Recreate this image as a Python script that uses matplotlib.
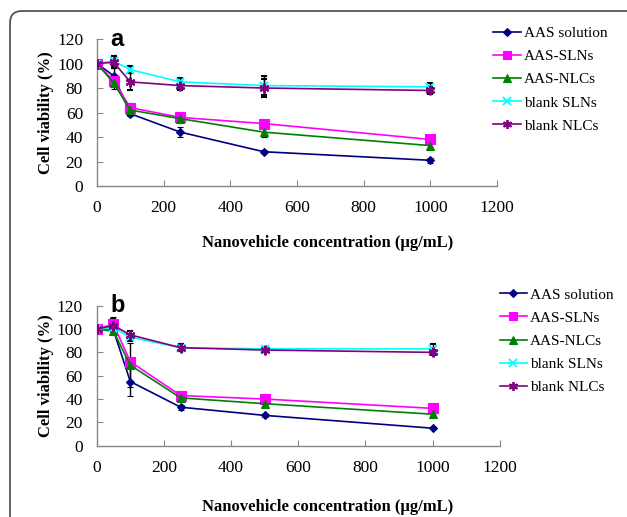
import matplotlib
matplotlib.use("Agg")
import matplotlib.pyplot as plt
from matplotlib.patches import FancyBboxPatch
from matplotlib.lines import Line2D

conc = [0, 50, 100, 250, 500, 1000]
series_names = ["AAS solution", "AAS-SLNs", "AAS-NLCs", "blank SLNs", "blank NLCs"]

# Panel a
a_aas_sol = [100, 90, 59, 44, 28, 21]
a_aas_sln = [100, 86, 64, 56, 51, 38]
a_aas_nlc = [100, 84, 62, 55, 44, 33]
a_blank_sln = [100, 102, 95, 85, 82, 81]
a_blank_nlc = [100, 101, 85, 82, 80, 78]
a_err_sol = [0, 6, 2, 4, 1, 2]
a_err_sln = [0, 3, 4, 2, 2, 2]
a_err_nlc = [0, 5, 2, 2, 4, 2]
a_err_bsln = [0, 4, 3, 3, 8, 3]
a_err_bnlc = [0, 5, 7, 4, 7, 3]

# Panel b
b_aas_sol = [100, 99, 55, 33, 26, 15]
b_aas_sln = [100, 104, 72, 43, 40, 32]
b_aas_nlc = [100, 98, 69, 41, 36, 27]
b_blank_sln = [100, 101, 93, 84, 83, 83]
b_blank_nlc = [100, 103, 95, 84, 82, 80]
b_err_sol = [0, 2, 12, 2, 1, 1]
b_err_sln = [0, 6, 3, 2, 2, 2]
b_err_nlc = [0, 2, 19, 2, 2, 2]
b_err_bsln = [0, 4, 3, 3, 2, 4]
b_err_bnlc = [0, 6, 3, 3, 2, 2]

y_ticks = [0, 20, 40, 60, 80, 100, 120]
x_ticks = [0, 200, 400, 600, 800, 1000, 1200]

colors = ["#000080", "#FF00FF", "#008000", "#00FFFF", "#800080"]
markers = ["D", "s", "^", "x", (6, 2, 0)]
msizes = [4.5, 6.5, 6, 6, 7]
leg_msizes = [4, 6, 5.5, 6, 6.5]

plt.rcParams['font.family'] = ['Liberation Serif', 'DejaVu Serif']

fig = plt.figure(figsize=(6.27, 5.17), dpi=100)

# rounded border
border = FancyBboxPatch((0.10, -1.0), 7.0, 6.06, boxstyle="round,pad=0,rounding_size=0.12",
                        transform=fig.dpi_scale_trans, fill=False, edgecolor="#555555",
                        linewidth=1.3)
fig.patches.append(border)

def is_thin(m):
    return m in ("x",) or isinstance(m, tuple)

def draw_panel(rect, data, errs, letter, legend_x, legend_y0, label_y):
    ax = fig.add_axes(rect)
    for vals, err, c, m, ms, name in zip(data, errs, colors, markers, msizes, series_names):
        ax.errorbar(conc, vals, yerr=err, color=c, marker=m, markersize=ms,
                    linewidth=1.2, ecolor="black", elinewidth=1.0, capsize=2.5,
                    capthick=1.0, markeredgewidth=1.5 if is_thin(m) else 0.8,
                    markeredgecolor=c, label=name, zorder=3)
    ax.set_xlim(0, 1200)
    ax.set_ylim(0, 120)
    ax.set_xticks(x_ticks)
    ax.set_yticks(y_ticks)
    for s in ("top", "right"):
        ax.spines[s].set_visible(False)
    for s in ("left", "bottom"):
        ax.spines[s].set_color("#888888")
        ax.spines[s].set_linewidth(1.0)
    ax.tick_params(direction="in", length=4, color="#888888", labelsize=12.5, pad=10)
    ax.tick_params(axis="x", pad=10)
    ax.set_ylabel("Cell viability (%)", fontsize=12, fontweight="bold", labelpad=2)
    fig.text(0.522, label_y, "Nanovehicle concentration (μg/mL)", fontsize=12,
             fontweight="bold", ha="center", va="center")
    ax.text(0.033, 1.0, letter, transform=ax.transAxes, fontsize=17, fontweight="bold",
            family="Liberation Sans", ha="left", va="center")
    # legend
    handles = [Line2D([0], [0], color=c, marker=m, markersize=ms, linewidth=1.2,
                      markeredgewidth=1.3 if is_thin(m) else 0.8)
               for c, m, ms in zip(colors, markers, leg_msizes)]
    fig.legend(handles, series_names, loc="upper left",
               bbox_to_anchor=(legend_x, legend_y0), frameon=False, fontsize=11,
               handlelength=1.8, handletextpad=0.2, labelspacing=0.62,
               borderaxespad=0, borderpad=0)
    return ax

draw_panel([0.1547, 0.6402, 0.638, 0.2843],
           [a_aas_sol, a_aas_sln, a_aas_nlc, a_blank_sln, a_blank_nlc],
           [a_err_sol, a_err_sln, a_err_nlc, a_err_bsln, a_err_bnlc],
           "a", 0.787, 0.949, 1 - 243 / 517)
draw_panel([0.1542, 0.1379, 0.643, 0.2708],
           [b_aas_sol, b_aas_sln, b_aas_nlc, b_blank_sln, b_blank_nlc],
           [b_err_sol, b_err_sln, b_err_nlc, b_err_bsln, b_err_bnlc],
           "b", 0.797, 0.443, 1 - 507 / 517)

fig.savefig("out.png", dpi=100)
